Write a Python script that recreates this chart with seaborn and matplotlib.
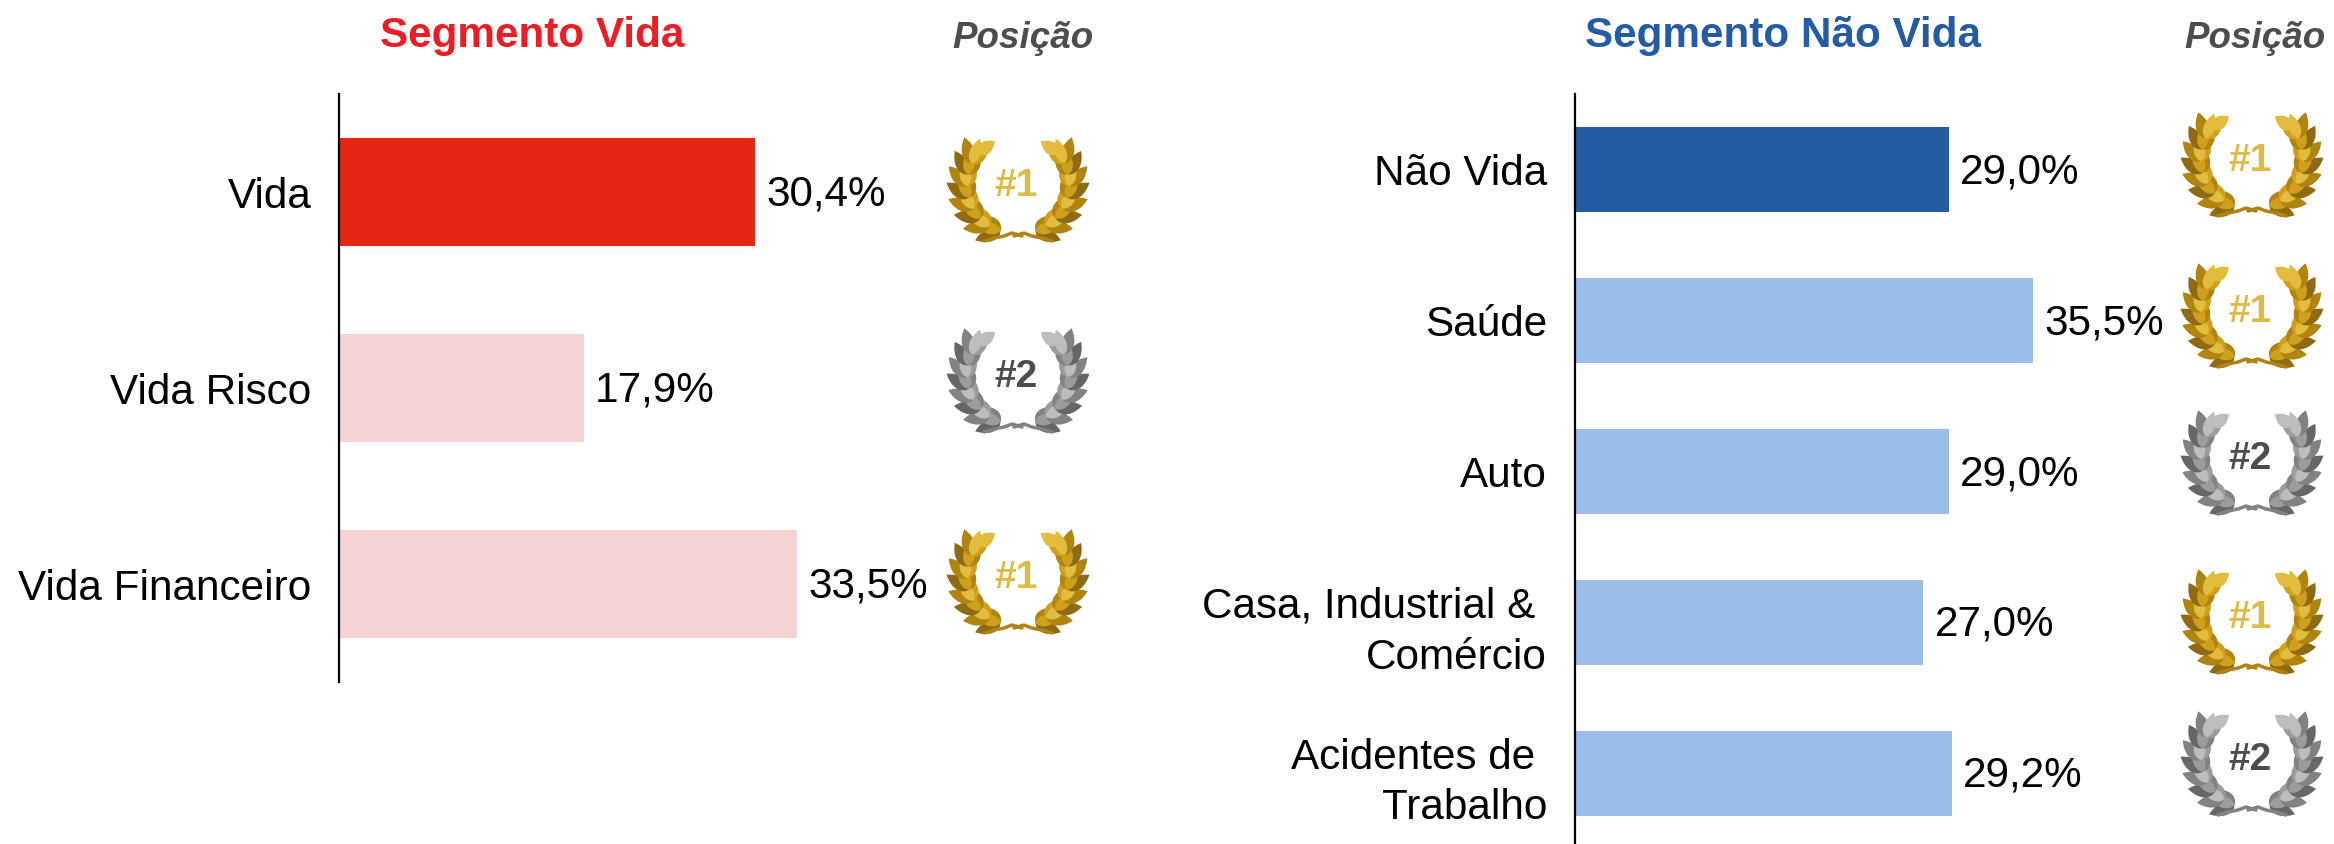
import numpy as np
import pandas as pd
import matplotlib
matplotlib.use('Agg')
import matplotlib.pyplot as plt
from matplotlib.patches import Polygon
import seaborn as sns

sns.set_theme(style='white')
plt.rcParams['font.family'] = ['Liberation Sans', 'DejaVu Sans']

# --- Data ---
vida_labels = ['Vida', 'Vida Risco', 'Vida Financeiro']
vida_values = [30.4, 17.9, 33.5]
vida_colors = ['#E52614', '#F5D2D3', '#F5D2D3']
vida_rank = [1, 2, 1]

nao_vida_labels = ['Não Vida', 'Saúde', 'Auto', 'Casa, Industrial & \nComércio', 'Acidentes de \nTrabalho']
nao_vida_values = [29.0, 35.5, 29.0, 27.0, 29.2]
nao_vida_colors = ['#235CA3', '#9BBDE9', '#9BBDE9', '#9BBDE9', '#9BBDE9']
nao_vida_rank = [1, 1, 2, 1, 2]

W, H = 2334, 844
FS = 30.4

fig = plt.figure(figsize=(W / 100, H / 100), dpi=100, facecolor='white')


def px_axes(x0, y0, x1, y1):
    return fig.add_axes([x0 / W, 1 - y1 / H, (x1 - x0) / W, (y1 - y0) / H])


def bar_panel(ax, labels, values, colors, width, xmax, ymax):
    df = pd.DataFrame({'cat': labels, 'val': values})
    sns.barplot(data=df, x='val', y='cat', hue='cat', palette=colors, legend=False,
                width=width, saturation=1, ax=ax, linewidth=0)
    ax.set_xlim(0, xmax)
    ax.set_ylim(ymax, -0.5)
    ax.set_xlabel('')
    ax.set_ylabel('')
    ax.set_xticks([])
    ax.set_yticks(range(len(labels)))
    ax.set_yticklabels(labels, fontsize=FS, color='black', ha='right', linespacing=1.35)
    ax.tick_params(axis='y', length=0, pad=20)
    for s in ['top', 'right', 'bottom']:
        ax.spines[s].set_visible(False)
    ax.spines['left'].set_color('black')
    ax.spines['left'].set_linewidth(1.6)
    ax.patch.set_alpha(0)
    for i, v in enumerate(values):
        ax.annotate(f'{v:.1f}%'.replace('.', ','), (v, i), xytext=(8, -2), textcoords='offset points',
                    va='center', ha='left', fontsize=FS, color='black')


bar_panel(px_axes(339, 94, 960, 682), vida_labels, vida_values, vida_colors, 0.556, 621 / 13.68, 2.5)
bar_panel(px_axes(1575, 94, 2334, 844), nao_vida_labels, nao_vida_values, nao_vida_colors, 0.563, 759 / 12.9, 4.47)

# overlay in pixel coordinates for titles and wreaths
ov = fig.add_axes([0, 0, 1, 1])
ov.set_xlim(0, W)
ov.set_ylim(H, 0)
ov.axis('off')
ov.patch.set_alpha(0)

ov.text(532, 36, 'Segmento Vida', color='#EE1C25', fontsize=FS, fontweight='bold', ha='center', va='center')
ov.text(1783, 36, 'Segmento Não Vida', color='#235CA3', fontsize=FS, fontweight='bold', ha='center', va='center')
ov.text(1023, 39, 'Posição', color='#4D4D4D', fontsize=26.5, fontweight='bold', style='italic', ha='center', va='center')
ov.text(2255, 39, 'Posição', color='#4D4D4D', fontsize=26.5, fontweight='bold', style='italic', ha='center', va='center')

GOLD = ['#8F6A12', '#B08410', '#CFA01C', '#E2BC3C']
SILVER = ['#666666', '#828282', '#9C9C9C', '#BDBDBD']


def leaf(cx, cy, ang, length, wid, color):
    # pointed at both ends, widest near the base
    t = np.linspace(0, 1, 14)
    half = wid * 2.6 * t ** 0.7 * (1 - t)
    xs = np.r_[t * length, t[::-1] * length]
    ys = np.r_[half, -half[::-1]]
    ca, sa = np.cos(ang), np.sin(ang)
    ov.add_patch(Polygon(np.c_[cx + xs * ca - ys * sa, cy + xs * sa + ys * ca], closed=True,
                         facecolor=color, edgecolor='none'))


def wreath(cx, top, rank):
    cols = GOLD if rank == 1 else SILVER
    rx, ry = 51, 50
    cy = top + 47
    n = 9
    for side in (-1, 1):
        for k in range(n):
            # walk up the branch, from the base of the wreath to its open top
            a = np.radians(70 - 108 * k / (n - 1))
            px = cx + side * rx * np.cos(a)
            py = cy + ry * np.sin(a)
            base = np.arctan2(-np.cos(a), side * np.sin(a))
            if k < n - 1:
                leaf(px, py, base + side * 0.7, 27, 8, cols[k % 2])
                leaf(px, py, base - side * 0.35, 24, 8, cols[1 + k % 2])
                leaf(px, py, base + side * 0.1, 26, 7, cols[2 + k % 2])
            else:
                leaf(px, py, base - side * 0.3, 21, 8, cols[3])
        # twig crossing under the wreath
        xt = cx + side * np.array([34, 24, 14, 6, -4])
        yt = top + np.array([104, 101, 99, 96, 99])
        ov.plot(xt, yt, color=cols[1], lw=2.5, solid_capstyle='round')
    ov.text(cx - 2, top + 49, '#%d' % rank, fontsize=28, fontweight='bold', ha='center', va='center',
            color='#DDBB45' if rank == 1 else '#4D4D4D')


for top, r in zip([137, 328, 529], vida_rank):
    wreath(1018, top, r)
for top, r in zip([112, 263, 410, 569, 711], nao_vida_rank):
    wreath(2252, top, r)

fig.savefig('out.png', dpi=100, facecolor='white')
